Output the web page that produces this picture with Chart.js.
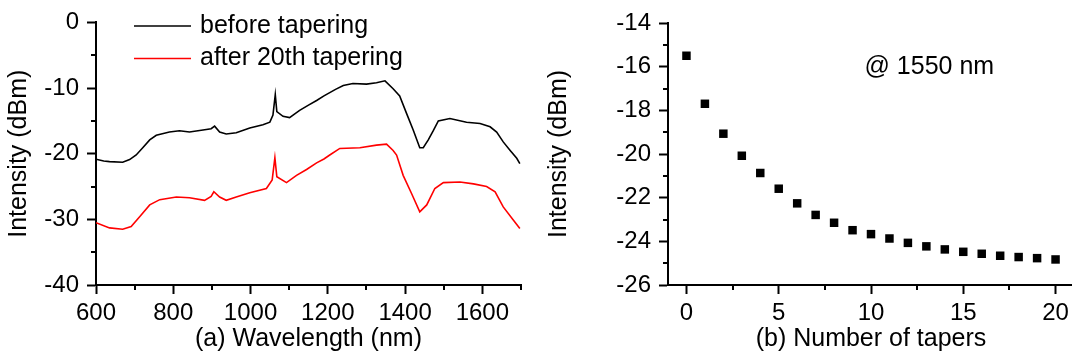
<!DOCTYPE html>
<html>
<head>
<meta charset="utf-8">
<script src="https://cdn.jsdelivr.net/npm/chart.js@4/dist/chart.umd.min.js"></script>
<style>
  html, body { margin: 0; padding: 0; background: #fff; overflow: hidden; width: 1072px; height: 358px; }
  .box { position: absolute; top: 0; }
</style>
</head>
<body>
<div class="box" style="left:0"><canvas id="spec" width="540" height="358"></canvas></div>
<div class="box" style="left:540px"><canvas id="taper" width="540" height="358"></canvas></div>
<script>
'use strict';
// (a) spectra
const beforeNm = [600, 620, 635, 669, 687, 704, 721, 739, 756, 790, 816, 842, 877, 898, 907, 920, 937, 963, 998, 1032,
    1050, 1058, 1064, 1068, 1084, 1101, 1127, 1150, 1171, 1190, 1205, 1220, 1240, 1265, 1300, 1326, 1348, 1369, 1386, 1404,
    1421, 1438, 1447, 1460, 1473, 1486, 1516, 1559, 1594, 1620, 1637, 1654, 1672, 1689, 1697];
const beforeDbm = [-20.84, -21.1, -21.2, -21.3, -20.9, -20.2, -19.1, -17.9, -17.2, -16.7, -16.5, -16.7, -16.4, -16.2, -15.8, -16.7, -17.0, -16.8, -16.1, -15.6,
    -15.2, -14.1, -11.0, -13.6, -14.3, -14.5, -13.4, -12.6, -11.9, -11.2, -10.7, -10.2, -9.6, -9.3, -9.4, -9.2, -8.9, -10.1, -11.2, -13.9,
    -16.4, -19.1, -19.1, -17.9, -16.5, -15.0, -14.65, -15.2, -15.4, -15.9, -16.7, -18.2, -19.5, -20.7, -21.5];
const afterNm = [600, 635, 669, 691, 713, 739, 765, 808, 842, 881, 898, 905, 920, 937, 963, 998, 1041, 1056, 1063, 1068,
    1093, 1119, 1145, 1171, 1190, 1205, 1231, 1283, 1326, 1352, 1369, 1378, 1395, 1417, 1438, 1456, 1477, 1499, 1542, 1577,
    1611, 1633, 1654, 1680, 1697];
const afterDbm = [-30.5, -31.3, -31.5, -31.1, -29.6, -27.8, -27.0, -26.6, -26.7, -27.1, -26.5, -25.8, -26.6, -27.1, -26.6, -25.95, -25.3, -24.0, -20.6, -23.5,
    -24.4, -23.3, -22.4, -21.4, -20.8, -20.2, -19.2, -19.1, -18.7, -18.55, -19.5, -20.2, -23.3, -26.1, -28.85, -27.8, -25.3, -24.4, -24.3, -24.6,
    -25.0, -25.8, -28.1, -30.1, -31.4];

// (b) intensity at 1550 nm vs number of tapers
const taperCount = [0, 1, 2, 3, 4, 5, 6, 7, 8, 9, 10, 11, 12, 13, 14, 15, 16, 17, 18, 19, 20];
const taperDbm = [-15.50, -17.70, -19.07, -20.08, -20.87, -21.59, -22.26, -22.79, -23.15, -23.49, -23.67, -23.87, -24.07, -24.23, -24.37, -24.48, -24.57, -24.66, -24.72, -24.77, -24.83];

// minor tick positions
const specMinorX = [700, 900, 1100, 1300, 1500, 1700];
const specMinorY = [-35, -25, -15, -5];
const taperMinorX = [2.5, 7.5, 12.5, 17.5];
const taperMinorY = [-25, -23, -21, -19, -17, -15];

const FONT = 'Liberation Sans, Arial, sans-serif';
const tickFont = { family: FONT, size: 24 };
const titleFont = { family: FONT, size: 25 };

const minorTicks = {
    id: 'minorTicks',
    afterDraw(chart, args, opts) {
        const ctx = chart.ctx;
        const xs = chart.scales.x, ys = chart.scales.y;
        ctx.save();
        ctx.strokeStyle = '#000';
        ctx.lineWidth = 2;
        (opts.x || []).forEach(function (v) {
            const px = Math.round(xs.getPixelForValue(v));
            ctx.beginPath();
            ctx.moveTo(px, xs.top);
            ctx.lineTo(px, xs.top + 5);
            ctx.stroke();
        });
        (opts.y || []).forEach(function (v) {
            const py = Math.round(ys.getPixelForValue(v));
            ctx.beginPath();
            ctx.moveTo(ys.right, py);
            ctx.lineTo(ys.right - 5, py);
            ctx.stroke();
        });
        ctx.restore();
    }
};

// legend drawn inside the plot, top left
const lineLegend = {
    id: 'lineLegend',
    afterDraw(chart, args, opts) {
        if (!opts.show) return;
        const ctx = chart.ctx;
        ctx.save();
        ctx.font = titleFont.size + 'px ' + FONT;
        ctx.textBaseline = 'middle';
        chart.data.datasets.forEach(function (ds, i) {
            const y = opts.top + i * opts.gap;
            ctx.strokeStyle = ds.borderColor;
            ctx.lineWidth = 1.5;
            ctx.beginPath();
            ctx.moveTo(opts.left, y);
            ctx.lineTo(opts.left + 57, y);
            ctx.stroke();
            ctx.fillStyle = '#000';
            ctx.fillText(ds.label, opts.left + 66, y);
        });
        ctx.restore();
    }
};

// @ 1550 nm note
const noteText = {
    id: 'noteText',
    afterDraw(chart, args, opts) {
        if (!opts.text) return;
        const ctx = chart.ctx;
        ctx.save();
        ctx.font = titleFont.size + 'px ' + FONT;
        ctx.fillStyle = '#000';
        ctx.textBaseline = 'middle';
        ctx.fillText(opts.text, chart.scales.x.getPixelForValue(opts.x), chart.scales.y.getPixelForValue(opts.y));
        ctx.restore();
    }
};

function axis(min, max, step, label, pad, extra) {
    return Object.assign({
        type: 'linear',
        min: min,
        max: max,
        ticks: {
            stepSize: step, includeBounds: false, font: tickFont, color: '#000', padding: pad, maxRotation: 0,
            callback: function (v) { return String(v); }
        },
        grid: { drawOnChartArea: false, tickLength: 9, tickWidth: 2, tickColor: '#000' },
        border: { color: '#000', width: 2 },
        title: { display: true, text: label, font: titleFont, color: '#000', padding: { top: 4, bottom: 4 } }
    }, extra);
}

new Chart(document.getElementById('spec'), {
    type: 'line',
    data: {
        datasets: [
            { label: 'before tapering', borderColor: '#000', data: beforeNm.map((x, i) => ({ x: x, y: beforeDbm[i] })) },
            { label: 'after 20th tapering', borderColor: '#ff0000', data: afterNm.map((x, i) => ({ x: x, y: afterDbm[i] })) }
        ]
    },
    options: {
        responsive: false,
        animation: false,
        devicePixelRatio: 1,
        layout: { padding: { top: 22, right: 19, left: 0, bottom: 0 } },
        elements: { point: { radius: 0 }, line: { borderWidth: 1.6, tension: 0 } },
        plugins: {
            legend: { display: false },
            tooltip: { enabled: false },
            minorTicks: { x: specMinorX, y: specMinorY },
            lineLegend: { show: true, left: 134, top: 26, gap: 32.5 }
        },
        scales: {
            x: axis(600, 1700, 200, '(a) Wavelength (nm)', 5, { afterFit(s) { s.height = 73; } }),
            y: axis(-40, 0, 10, 'Intensity (dBm)', 8, { afterFit(s) { s.width = 96; } })
        }
    },
    plugins: [minorTicks, lineLegend]
});

new Chart(document.getElementById('taper'), {
    type: 'scatter',
    data: {
        datasets: [
            {
                label: '@ 1550 nm',
                data: taperCount.map((x, i) => ({ x: x, y: taperDbm[i] })),
                pointStyle: 'rect',
                pointRadius: 6,
                pointBorderWidth: 0,
                backgroundColor: '#000',
                borderColor: '#000'
            }
        ]
    },
    options: {
        responsive: false,
        animation: false,
        devicePixelRatio: 1,
        layout: { padding: { top: 23, right: 5, left: 0, bottom: 0 } },
        plugins: {
            legend: { display: false },
            tooltip: { enabled: false },
            minorTicks: { x: taperMinorX, y: taperMinorY },
            noteText: { text: '@ 1550 nm', x: 9.65, y: -16.0 }
        },
        scales: {
            x: axis(-1, 21, 5, '(b) Number of tapers', 5, { afterFit(s) { s.height = 73; } }),
            y: axis(-26, -14, 2, 'Intensity (dBm)', 8, { afterFit(s) { s.width = 128; } })
        }
    },
    plugins: [minorTicks, noteText]
});
</script>
</body>
</html>
